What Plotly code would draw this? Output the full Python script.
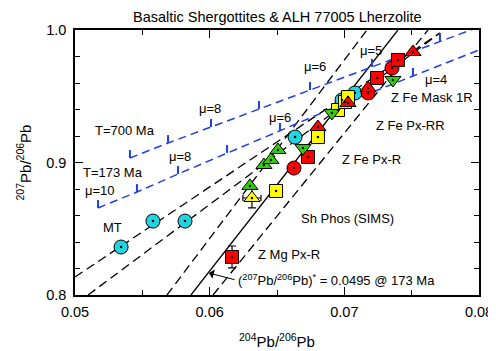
import plotly.graph_objects as go

FONT = "Liberation Sans, Arial, sans-serif"

# ---- data ----
cyan_x = [0.05342, 0.05579, 0.05817, 0.06634, 0.06983, 0.07079]
cyan_y = [0.8362, 0.8558, 0.8558, 0.9192, 0.9472, 0.9525]

green_up_x = [0.06299, 0.06403, 0.06455, 0.06507]
green_up_y = [0.8823, 0.8981, 0.9019, 0.9094]

green_dn_x = [0.06693, 0.06908, 0.07361]
green_dn_y = [0.9109, 0.9374, 0.9623]

yellow_sq_x = [0.06493, 0.06804, 0.06953, 0.07005, 0.07027]
yellow_sq_y = [0.8785, 0.9192, 0.9396, 0.9457, 0.9494]

yellow_tri_x = [0.06314]
yellow_tri_y = [0.8732]
yellow_tri_ex = [0.00067]
yellow_tri_ey = [0.0075]

red_circ_x = [0.06626, 0.07176, 0.07354]
red_circ_y = [0.8958, 0.9525, 0.9713]

red_sq_x = [0.06730, 0.07243, 0.07398]
red_sq_y = [0.9042, 0.9638, 0.9774]

red_sq_err_x = [0.06166]
red_sq_err_y = [0.8287]
red_sq_err_ey = [0.0083]

red_tri_x = [0.06804, 0.07027, 0.07176, 0.07510]
red_tri_y = [0.9268, 0.9449, 0.9562, 0.9834]

# black reference lines (two end points each)
solid_line_x = [0.05861, 0.07398]
solid_line_y = [0.80, 1.00]
dash_lines = [
    ([0.05683, 0.07168], [0.80, 1.00]),
    ([0.06025, 0.07621], [0.80, 1.00]),
    ([0.05000, 0.07710], [0.8136, 0.9977]),
    ([0.05097, 0.07710], [0.80, 0.9977]),
]

# growth curves (points at mu ticks, last point = end of curve)
g700_x = [0.05408, 0.05691, 0.06010, 0.06366, 0.06745, 0.07205, 0.07710, 0.0800]
g700_y = [0.9034, 0.9147, 0.9268, 0.9404, 0.9547, 0.9721, 0.9917, 1.0023]
g173_x = [0.05171, 0.05460, 0.05765, 0.06129, 0.06522, 0.06990, 0.07510, 0.0800]
g173_y = [0.8657, 0.8777, 0.8913, 0.9072, 0.9238, 0.9442, 0.9653, 0.9849]
tick_len = 0.006

labels = [
    ("μ=5", 0.07198, 0.9849), ("μ=6", 0.06782, 0.9721), ("μ=4", 0.07681, 0.9630),
    ("μ=8", 0.06002, 0.9411), ("T=700 Ma", 0.05371, 0.9245), ("μ=6", 0.06522, 0.9343),
    ("μ=8", 0.05780, 0.9049), ("T=173 Ma", 0.05282, 0.8921), ("μ=10", 0.05186, 0.8792),
    ("MT", 0.05282, 0.8506), ("Z Fe Mask 1R", 0.07651, 0.9487),
    ("Z Fe Px-RR", 0.07488, 0.9283), ("Z Fe Px-R", 0.07198, 0.9019),
    ("Sh Phos (SIMS)", 0.07020, 0.8581), ("Z Mg Px-R", 0.06589, 0.8302),
]

BLUE = "#1f3fe0"
fig = go.Figure()

for lx, ly in dash_lines:
    fig.add_trace(go.Scatter(x=lx, y=ly, mode="lines",
                             line=dict(color="black", width=1.3, dash="9px,5px"),
                             hoverinfo="skip", showlegend=False))
fig.add_trace(go.Scatter(x=solid_line_x, y=solid_line_y, mode="lines",
                         line=dict(color="black", width=1.3), showlegend=False))

for gx, gy in [(g700_x, g700_y), (g173_x, g173_y)]:
    fig.add_trace(go.Scatter(x=gx, y=gy, mode="lines",
                             line=dict(color=BLUE, width=1.5, dash="8px,5px"),
                             showlegend=False))
    tx, ty = [], []
    for xv, yv in zip(gx[:-1], gy[:-1]):
        tx += [xv, xv, None]
        ty += [yv, yv + tick_len, None]
    fig.add_trace(go.Scatter(x=tx, y=ty, mode="lines",
                             line=dict(color=BLUE, width=2), showlegend=False))

def pts(x, y, sym, color, size, ex=None, ey=None):
    kw = {}
    if ex is not None:
        kw["error_x"] = dict(type="data", array=ex, color="black", thickness=1.2, width=3)
    if ey is not None:
        kw["error_y"] = dict(type="data", array=ey, color="black", thickness=1.2, width=4)
    fig.add_trace(go.Scatter(x=x, y=y, mode="markers",
                             marker=dict(symbol=sym, color=color, size=size,
                                         line=dict(color="black", width=1)),
                             showlegend=False, **kw))

pts(cyan_x, cyan_y, "circle", "#22d3e0", 14)
pts(yellow_tri_x, yellow_tri_y, "triangle-up", "#ffff00", 14, yellow_tri_ex, yellow_tri_ey)
pts(green_up_x, green_up_y, "triangle-up", "#33cc11", 14)
pts(yellow_sq_x, yellow_sq_y, "square", "#ffff00", 13)
pts(red_circ_x, red_circ_y, "circle", "#ff0000", 14)
pts(red_sq_x, red_sq_y, "square", "#ff0000", 13)
pts(red_sq_err_x, red_sq_err_y, "square", "#ff0000", 13, None, red_sq_err_ey)
pts(green_dn_x, green_dn_y, "triangle-down", "#33cc11", 14)
pts(red_tri_x, red_tri_y, "triangle-up", "#ff0000", 14)

all_x = cyan_x + green_up_x + green_dn_x + yellow_sq_x + yellow_tri_x + red_circ_x + red_sq_x + red_sq_err_x + red_tri_x
all_y = cyan_y + green_up_y + green_dn_y + yellow_sq_y + yellow_tri_y + red_circ_y + red_sq_y + red_sq_err_y + red_tri_y
fig.add_trace(go.Scatter(x=all_x, y=all_y, mode="markers",
                         marker=dict(color="black", size=2.5), showlegend=False))

ann = []
for t, x, y in labels:
    ann.append(dict(x=x, y=y, text=t, showarrow=False, xref="x", yref="y",
                    font=dict(family=FONT, size=13, color="black")))
ann.append(dict(x=0.05995, y=0.8166, ax=0.06196, ay=0.8113, axref="x", ayref="y",
                xref="x", yref="y", text="", showarrow=True, arrowhead=1,
                arrowsize=1.6, arrowwidth=1, arrowcolor="black"))
ann.append(dict(x=0.06196, y=0.8113, xref="x", yref="y", xanchor="left",
                text="(<sup>207</sup>Pb/<sup>206</sup>Pb)<sup>*</sup> = 0.0495 @ 173 Ma",
                showarrow=False, font=dict(family=FONT, size=13, color="black")))
ann.append(dict(x=0.5, y=1, xref="paper", yref="paper", yanchor="bottom", yshift=4,
                borderpad=0,
                text="Basaltic Shergottites & ALH 77005 Lherzolite", showarrow=False,
                font=dict(family=FONT, size=14.5, color="black")))
ann.append(dict(x=0.5, y=0, xref="paper", yref="paper", yanchor="middle", yshift=-45,
                text="<sup>204</sup>Pb/<sup>206</sup>Pb", showarrow=False,
                font=dict(family=FONT, size=15, color="black")))
ann.append(dict(x=0, y=0.5, xref="paper", yref="paper", xanchor="center", xshift=-51,
                text="<sup>207</sup>Pb/<sup>206</sup>Pb", showarrow=False, textangle=-90,
                font=dict(family=FONT, size=15, color="black")))

axis_common = dict(showgrid=False, zeroline=False, showline=True, linecolor="black",
                   linewidth=1.5, mirror="allticks", ticks="inside", ticklen=8,
                   tickwidth=1.3, tickcolor="black", automargin=False,
                   tickfont=dict(family=FONT, size=14.5, color="black"))
# the page body adds an 8px margin, so the figure is sized to fit the window
fig.update_layout(
    width=488, height=343, margin=dict(l=67, r=17, t=22, b=56, pad=0),
    paper_bgcolor="white", plot_bgcolor="white", annotations=ann,
    xaxis=dict(range=[0.05, 0.08], tickvals=[0.05, 0.06, 0.07, 0.08],
               ticktext=["0.05", "0.06", "0.07", "0.08"], ticklabelstandoff=3,
               minor=dict(dtick=0.005, tick0=0.05, ticks="inside", ticklen=5, tickcolor="black", tickwidth=1.3),
               **axis_common),
    yaxis=dict(range=[0.8, 1.0], tickvals=[0.8, 0.9, 1.0], ticktext=["0.8", "0.9", "1.0"],
               ticklabelstandoff=4,
               minor=dict(dtick=0.02, tick0=0.8, ticks="inside", ticklen=5, tickcolor="black", tickwidth=1.3),
               **axis_common),
)
fig.write_html("out.html")
